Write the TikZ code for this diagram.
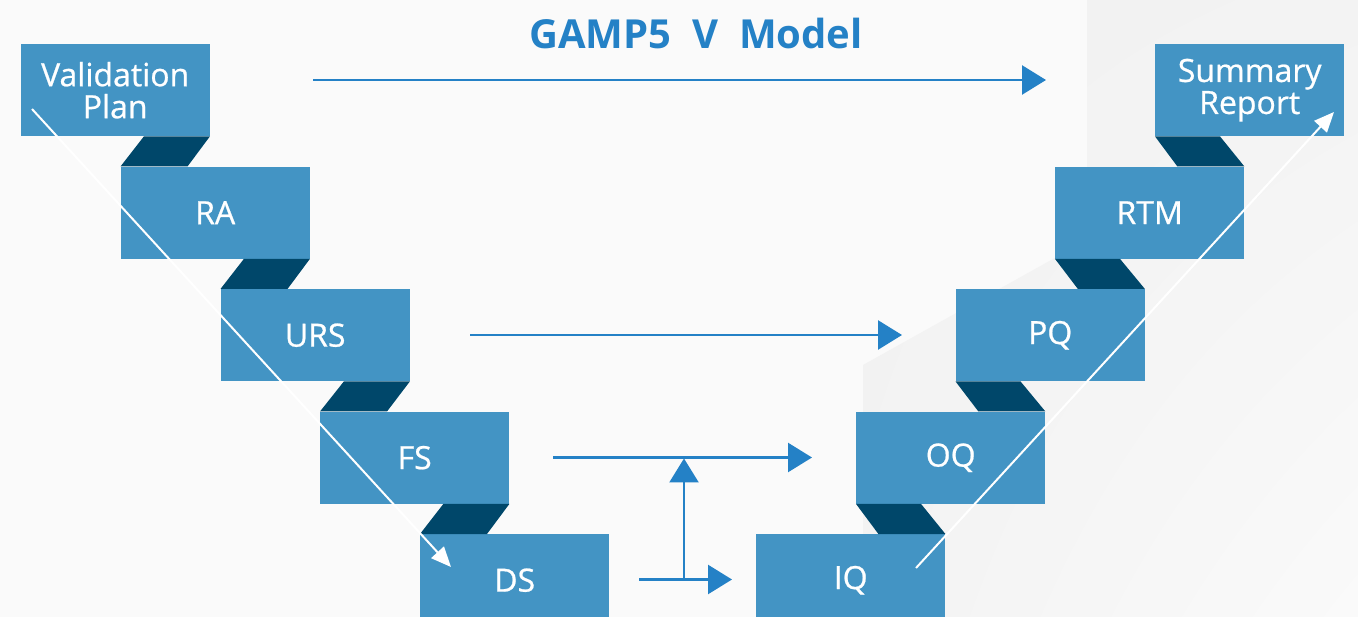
\documentclass[tikz,border=0pt]{standalone}
\usepackage{fontspec}
\setmainfont{Open Sans}
\newfontfamily\stagefont{Open Sans}[FakeBold=0.7]
\usetikzlibrary{arrows.meta,shadings}
\definecolor{boxblue}{HTML}{4394C4}
\definecolor{darkblue}{HTML}{00476A}
\definecolor{arrowblue}{HTML}{2481C6}
\definecolor{bgbase}{HTML}{FAFAFA}
\definecolor{bgA}{HTML}{F1F1F1}
\definecolor{bgB}{HTML}{F3F3F3}
\definecolor{bgC}{HTML}{F3F3F3}
\begin{document}
\begin{tikzpicture}[x=1pt,y=-1pt,
  stage/.style={fill=boxblue, minimum width=189pt, minimum height=92pt, inner sep=0pt,
    anchor=north west, text=white, font=\stagefont\fontsize{32}{32}\selectfont, align=center},
  fold/.style={fill=darkblue},
  flow/.style={draw=arrowblue, line width=2.5pt, -{Triangle[length=24pt,width=29pt]}},
  trace/.style={draw=white, line width=2pt, -{Triangle[length=20pt,width=17pt]}}
]
\useasboundingbox (0,0) rectangle (1358,617);
\clip (0,0) rectangle (1358,617);
% background
\fill[bgbase] (0,0) rectangle (1358,617);
\shade[upper left=bgA, upper right=bgB, lower left=bgC, lower right=bgbase]
  (1087,0) -- (1358,0) -- (1358,617) -- (863,617) -- (863,365) -- (1087,240) -- cycle;

% title
\node[text=arrowblue, font=\bfseries\fontsize{40}{40}\selectfont, anchor=base] (title) at (696,49) {GAMP5\ \ V\ \ Model};

% stages (left leg)
\node[stage] (vp)  at (20.5,44)  {Validation\\Plan};
\node[stage] (ra)  at (120.5,166.5) {RA};
\node[stage] (urs) at (220.5,289) {URS};
\node[stage] (fs)  at (320,411.5) {FS};
\node[stage] (ds)  at (420,534) {DS};
% stages (right leg)
\node[stage] (iq)  at (756,534) {IQ};
\node[stage] (oq)  at (856,411.5) {OQ};
\node[stage] (pq)  at (955.5,289) {PQ};
\node[stage] (rtm) at (1055,166.5) {RTM};
\node[stage] (sr)  at (1155,44) {Summary\\Report};

% folds (left)
\foreach \u/\l in {vp/ra, ra/urs, urs/fs, fs/ds}{
  \fill[fold] ([xshift=-66pt]\u.south east) -- (\u.south east) -- ([xshift=67pt]\l.north west) -- (\l.north west) -- cycle;
}
% folds (right)
\foreach \u/\l in {sr/rtm, rtm/pq, pq/oq, oq/iq}{
  \fill[fold] (\u.south west) -- ([xshift=65pt]\u.south west) -- (\l.north east) -- ([xshift=-67pt]\l.north east) -- cycle;
}

% white trace arrows
\coordinate (t1) at (32,109);
\coordinate (t2) at (451,567);
\coordinate (t3) at (916,568);
\coordinate (t4) at (1334,112);
\draw[trace] (t1) -- (t2);
\draw[trace] (t3) -- (t4);

% blue flow arrows
\coordinate (a1) at (313,80);   \coordinate (a2) at (1046,80);
\coordinate (b1) at (470,335);  \coordinate (b2) at (902,335);
\coordinate (c1) at (553,457.5); \coordinate (c2) at (812,457.5);
\coordinate (d1) at (639,579.5); \coordinate (d2) at (732,579.5);
\coordinate (v1) at (684,579.5); \coordinate (v2) at (684,458.5);
\draw[flow] (a1) -- (a2);
\draw[flow] (b1) -- (b2);
\draw[flow] (c1) -- (c2);
\draw[flow] (d1) -- (d2);
\draw[flow] (v1) -- (v2);
\end{tikzpicture}
\end{document}
